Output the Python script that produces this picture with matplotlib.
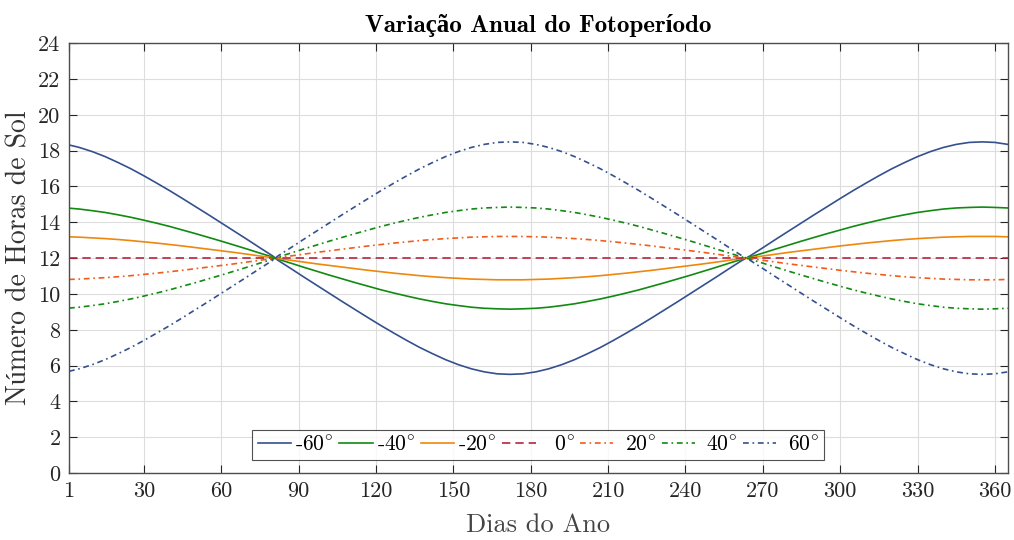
import numpy as np
import matplotlib
matplotlib.use('Agg')
import matplotlib.pyplot as plt

# dias do ano amostrados
dias = [1] + list(range(5, 81, 5)) + list(range(82, 263, 5)) + list(range(265, 366, 5))

# horas de sol, por latitude
h_m60 = ([18.32]
         + [18.18, 17.95, 17.67, 17.34, 16.99, 16.60, 16.19, 15.77, 15.33, 14.88,
            14.43, 13.97, 13.51, 13.05, 12.58, 12.12]
         + [11.88, 11.42, 10.95, 10.49, 10.03, 9.57, 9.12, 8.67, 8.23, 7.81,
            7.40, 7.01, 6.66, 6.33, 6.05, 5.82, 5.65, 5.54, 5.51]
         + [5.54, 5.65, 5.82, 6.05, 6.33, 6.66, 7.01, 7.40, 7.81, 8.23,
            8.67, 9.12, 9.57, 10.03, 10.49, 10.95, 11.42, 11.88]
         + [12.12, 12.58, 13.05, 13.51, 13.97, 14.43, 14.88, 15.33, 15.77, 16.19,
            16.60, 16.99, 17.34, 17.67, 17.95, 18.18, 18.35, 18.46, 18.49]
         + [18.46, 18.35])
h_m40 = ([14.79]
         + [14.74, 14.65, 14.55, 14.42, 14.28, 14.12, 13.95, 13.77, 13.57, 13.37,
            13.16, 12.95, 12.73, 12.51, 12.28, 12.06]
         + [11.94, 11.72, 11.49, 11.27, 11.05, 10.84, 10.63, 10.43, 10.23, 10.05,
            9.88, 9.72, 9.58, 9.45, 9.35, 9.26, 9.20, 9.17, 9.15]
         + [9.17, 9.20, 9.26, 9.35, 9.45, 9.58, 9.72, 9.88, 10.05, 10.23,
            10.43, 10.63, 10.84, 11.05, 11.27, 11.49, 11.72, 11.94]
         + [12.06, 12.28, 12.51, 12.73, 12.95, 13.16, 13.37, 13.57, 13.77, 13.95,
            14.12, 14.28, 14.42, 14.55, 14.65, 14.74, 14.80, 14.83, 14.85]
         + [14.83, 14.80])
h_m20 = ([13.19]
         + [13.17, 13.13, 13.09, 13.04, 12.98, 12.91, 12.84, 12.76, 12.68, 12.59,
            12.50, 12.41, 12.32, 12.22, 12.12, 12.02]
         + [11.98, 11.88, 11.78, 11.68, 11.59, 11.50, 11.41, 11.32, 11.24, 11.16,
            11.09, 11.02, 10.96, 10.91, 10.87, 10.83, 10.81, 10.79, 10.79]
         + [10.79, 10.81, 10.83, 10.87, 10.91, 10.96, 11.02, 11.09, 11.16, 11.24,
            11.32, 11.41, 11.50, 11.59, 11.68, 11.78, 11.88, 11.98]
         + [12.02, 12.12, 12.22, 12.32, 12.41, 12.50, 12.59, 12.68, 12.76, 12.84,
            12.91, 12.98, 13.04, 13.09, 13.13, 13.17, 13.19, 13.21, 13.21]
         + [13.21, 13.19])
h_0 = [12.0] * len(dias)
h_20 = ([10.81]
        + [10.83, 10.87, 10.91, 10.96, 11.02, 11.09, 11.16, 11.24, 11.32, 11.41,
           11.50, 11.59, 11.68, 11.78, 11.88, 11.98]
        + [12.02, 12.12, 12.22, 12.32, 12.41, 12.50, 12.59, 12.68, 12.76, 12.84,
           12.91, 12.98, 13.04, 13.09, 13.13, 13.17, 13.19, 13.21, 13.21]
        + [13.21, 13.19, 13.17, 13.13, 13.09, 13.04, 12.98, 12.91, 12.84, 12.76,
           12.68, 12.59, 12.50, 12.41, 12.32, 12.22, 12.12, 12.02]
        + [11.98, 11.88, 11.78, 11.68, 11.59, 11.50, 11.41, 11.32, 11.24, 11.16,
           11.09, 11.02, 10.96, 10.91, 10.87, 10.83, 10.81, 10.79, 10.79]
        + [10.79, 10.81])
h_40 = ([9.21]
        + [9.26, 9.35, 9.45, 9.58, 9.72, 9.88, 10.05, 10.23, 10.43, 10.63,
           10.84, 11.05, 11.27, 11.49, 11.72, 11.94]
        + [12.06, 12.28, 12.51, 12.73, 12.95, 13.16, 13.37, 13.57, 13.77, 13.95,
           14.12, 14.28, 14.42, 14.55, 14.65, 14.74, 14.80, 14.83, 14.85]
        + [14.83, 14.80, 14.74, 14.65, 14.55, 14.42, 14.28, 14.12, 13.95, 13.77,
           13.57, 13.37, 13.16, 12.95, 12.73, 12.51, 12.28, 12.06]
        + [11.94, 11.72, 11.49, 11.27, 11.05, 10.84, 10.63, 10.43, 10.23, 10.05,
           9.88, 9.72, 9.58, 9.45, 9.35, 9.26, 9.20, 9.17, 9.15]
        + [9.17, 9.20])
h_60 = ([5.68]
        + [5.82, 6.05, 6.33, 6.66, 7.01, 7.40, 7.81, 8.23, 8.67, 9.12,
           9.57, 10.03, 10.49, 10.95, 11.42, 11.88]
        + [12.12, 12.58, 13.05, 13.51, 13.97, 14.43, 14.88, 15.33, 15.77, 16.19,
           16.60, 16.99, 17.34, 17.67, 17.95, 18.18, 18.35, 18.46, 18.49]
        + [18.46, 18.35, 18.18, 17.95, 17.67, 17.34, 16.99, 16.60, 16.19, 15.77,
           15.33, 14.88, 14.43, 13.97, 13.51, 13.05, 12.58, 12.12]
        + [11.88, 11.42, 10.95, 10.49, 10.03, 9.57, 9.12, 8.67, 8.23, 7.81,
           7.40, 7.01, 6.66, 6.33, 6.05, 5.82, 5.65, 5.54, 5.51]
        + [5.54, 5.65])

series = [h_m60, h_m40, h_m20, h_0, h_20, h_40, h_60]
rotulos = ['-60$^{\\circ}$', '-40$^{\\circ}$', '-20$^{\\circ}$', '  0$^{\\circ}$',
           ' 20$^{\\circ}$', ' 40$^{\\circ}$', ' 60$^{\\circ}$']
cores = ['#34508e', '#108a10', '#ee880c', '#b8243e', '#f05c1c', '#108a10', '#34508e']
traco = (0, (3.5, 2.2, 1.0, 2.2))
estilos = ['-', '-', '-', (0, (5, 3)), traco, traco, traco]

plt.rcParams['font.family'] = ['cmr10', 'Liberation Serif']
plt.rcParams['mathtext.fontset'] = 'cm'
plt.rcParams['axes.unicode_minus'] = False

fig = plt.figure(figsize=(10.14, 5.40), dpi=100)
ax = fig.add_axes([0.068, 0.124, 0.926, 0.796])

for h, lab, c, ls in zip(series, rotulos, cores, estilos):
    ax.plot(dias, h, color=c, linestyle=ls, linewidth=1.2, label=lab)

ax.set_xlim(1, 365)
ax.set_ylim(0, 24)
ax.set_xticks([1] + list(range(30, 361, 30)))
ax.set_yticks(range(0, 25, 2))
ax.grid(True, color='#dddddd', linewidth=0.8)
ax.tick_params(direction='in', top=True, right=True, length=6, width=0.8,
               labelsize=16, colors='#262626', pad=6)
for s in ax.spines.values():
    s.set_color('#4d4d4d')
    s.set_linewidth(1.0)

ax.set_xlabel('Dias do Ano', fontsize=19, color='#444444', labelpad=9)
ax.set_ylabel('Número de Horas de Sol', fontsize=20, color='#333333', labelpad=4)
ax.set_title('Variação Anual do Fotoperíodo', fontsize=18,
             family=['cmb10', 'Liberation Serif'], fontweight='bold', pad=8)

leg = ax.legend(loc='lower center', bbox_to_anchor=(0.5, 0.03), ncol=7,
                fontsize=15.5, frameon=True, fancybox=False, edgecolor='#262626',
                handlelength=1.55, handletextpad=0.2, columnspacing=0.25,
                borderpad=0.25, borderaxespad=0)
leg.get_frame().set_linewidth(0.8)

fig.savefig('out.png', dpi=100)
